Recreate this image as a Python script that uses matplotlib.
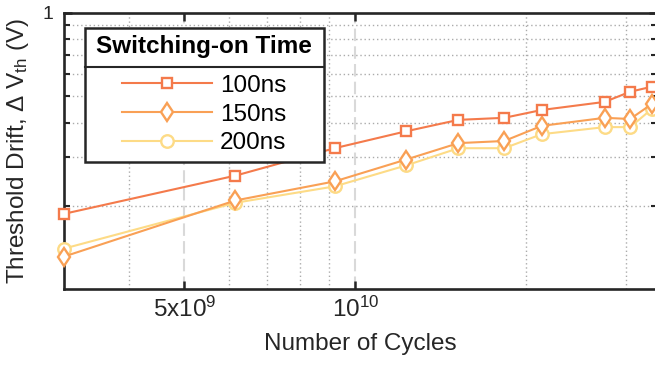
import matplotlib
matplotlib.use("Agg")
import matplotlib.pyplot as plt
from matplotlib.lines import Line2D
from matplotlib.patches import Rectangle
from matplotlib.ticker import FixedLocator, FixedFormatter, LogLocator, NullFormatter

# Threshold drift vs. stress cycles for three switching-on times
cycles = [3.07e9, 6.15e9, 9.2e9, 1.23e10, 1.52e10, 1.83e10, 2.13e10, 2.75e10, 3.05e10, 3.33e10]
drift_100ns = [0.187, 0.257, 0.323, 0.372, 0.409, 0.416, 0.444, 0.475, 0.517, 0.539]
drift_150ns = [0.131, 0.209, 0.245, 0.294, 0.337, 0.343, 0.389, 0.416, 0.412, 0.467]
drift_200ns = [0.140, 0.205, 0.235, 0.280, 0.323, 0.323, 0.363, 0.385, 0.385, 0.448]

series_labels = ["100ns", "150ns", "200ns"]
legend_title = "Switching-on Time"
x_tick_values = [5e9, 1e10]
x_tick_labels = ["5x10$^{9}$", "10$^{10}$"]
y_tick_values = [1.0]
y_tick_labels = ["1"]

plt.rcParams["font.family"] = ["Liberation Sans", "DejaVu Sans"]
plt.rcParams["mathtext.fontset"] = "custom"
plt.rcParams["mathtext.rm"] = "Liberation Sans"
plt.rcParams["mathtext.it"] = "Liberation Sans:italic"
plt.rcParams["mathtext.bf"] = "Liberation Sans:bold"
plt.rcParams["mathtext.default"] = "regular"

ink = "#262626"
c100, c150, c200 = "#F47A4B", "#F9A055", "#FDDB86"
FS = 17.5

fig = plt.figure(figsize=(6.55, 3.66), dpi=100)
W, H = 655, 366
AX_L, AX_B, AX_W, AX_H = 64, 77, 593, 276.5
ax = fig.add_axes([AX_L / W, AX_B / H, AX_W / W, AX_H / H])
ax.set_xscale("log")
ax.set_yscale("log")

l200, = ax.plot(cycles, drift_200ns, color=c200, lw=1.5, marker="o", ms=9,
                mfc="white", mec=c200, mew=1.7, zorder=3, clip_on=False)
l150, = ax.plot(cycles, drift_150ns, color=c150, lw=1.5, marker="d", ms=9.5,
                mfc="white", mec=c150, mew=1.7, zorder=4, clip_on=False)
l100, = ax.plot(cycles, drift_100ns, color=c100, lw=1.5, marker="s", ms=6.5,
                mfc="white", mec=c100, mew=1.7, zorder=5, clip_on=False)

ax.set_xlim(cycles[0], 3.40e10)
ax.set_ylim(0.1, 1.0)

ax.xaxis.set_major_locator(FixedLocator(x_tick_values))
ax.xaxis.set_major_formatter(FixedFormatter(x_tick_labels))
ax.xaxis.set_minor_locator(LogLocator(base=10, subs=(2, 3, 4, 6, 7, 8, 9)))
ax.xaxis.set_minor_formatter(NullFormatter())
ax.yaxis.set_major_locator(FixedLocator(y_tick_values))
ax.yaxis.set_major_formatter(FixedFormatter(y_tick_labels))
ax.yaxis.set_minor_locator(LogLocator(base=10, subs=(2, 3, 4, 5, 6, 7, 8, 9)))
ax.yaxis.set_minor_formatter(NullFormatter())

ax.grid(which="major", axis="x", linestyle=(0, (6, 2.5)), color="#d9d9d9", lw=1.5, zorder=1)
ax.grid(which="minor", axis="both", linestyle=(0, (1, 2)), color="#ababab", lw=1.0, zorder=1)
ax.set_axisbelow(True)

for s in ax.spines.values():
    s.set_color(ink)
    s.set_linewidth(1.9)

ax.tick_params(which="major", direction="in", length=6, width=1.8, top=True, right=True,
               colors=ink, labelsize=FS)
ax.tick_params(axis="x", which="major", pad=5.5)
ax.tick_params(axis="y", which="major", labelsize=14, pad=7.5)
ax.tick_params(axis="x", which="minor", length=0)
ax.tick_params(axis="y", which="minor", direction="in", length=4, width=1.5,
               left=True, right=True, colors=ink)

ax.set_xlabel("Number of Cycles", fontsize=FS, color=ink)
ax.set_ylabel("Threshold Drift, \u0394 V$_{th}$ (V)", fontsize=FS, color=ink)
ax.xaxis.set_label_coords(0.5, -0.158)
ax.yaxis.set_label_coords(-0.056, 0.5)

# legend: boxed, with a bold title separated from the entries by a rule
PAD_X, PAD_Y = 11.5, 7.5           # frame padding, pixels
BOX_LEFT, BOX_TOP = 85, 28         # frame corner, pixels from figure top-left
leg = ax.legend(handles=[l100, l150, l200], labels=series_labels, title=legend_title,
                loc="upper left",
                bbox_to_anchor=((BOX_LEFT + PAD_X - AX_L) / AX_W,
                                (H - BOX_TOP - PAD_Y - AX_B) / AX_H),
                prop={"size": FS}, title_fontproperties={"weight": "bold", "size": FS},
                frameon=False, borderpad=0, labelspacing=0.28, handlelength=3.7,
                handletextpad=0.33, borderaxespad=0)
for t in leg.get_texts():
    t.set_color("black")
leg.get_title().set_color("black")
leg._legend_box.sep = 11.7
leg.set_zorder(10)

fig.canvas.draw()
r = fig.canvas.get_renderer()
tb = leg._legend_title_box.get_window_extent(r)
hb = leg._legend_handle_box.get_window_extent(r)
bb = leg._legend_box.get_window_extent(r)
to_ax = ax.transAxes.inverted()
(bx0, by0), (bx1, by1) = to_ax.transform([(bb.x0 - PAD_X, bb.y0 - PAD_Y),
                                           (bb.x1 + PAD_X, bb.y1 + PAD_Y)])
ax.add_patch(Rectangle((bx0, by0), bx1 - bx0, by1 - by0, transform=ax.transAxes,
                       facecolor="white", edgecolor=ink, lw=1.8, zorder=9, clip_on=False))
ymid = (tb.y0 + hb.y1) / 2
(sx0, sy), (sx1, _) = to_ax.transform([(bb.x0 - PAD_X, ymid), (bb.x1 + PAD_X, ymid)])
ax.add_line(Line2D([sx0, sx1], [sy, sy], transform=ax.transAxes, color=ink, lw=1.5,
                   zorder=11, clip_on=False))

fig.savefig("out.png", dpi=100)
